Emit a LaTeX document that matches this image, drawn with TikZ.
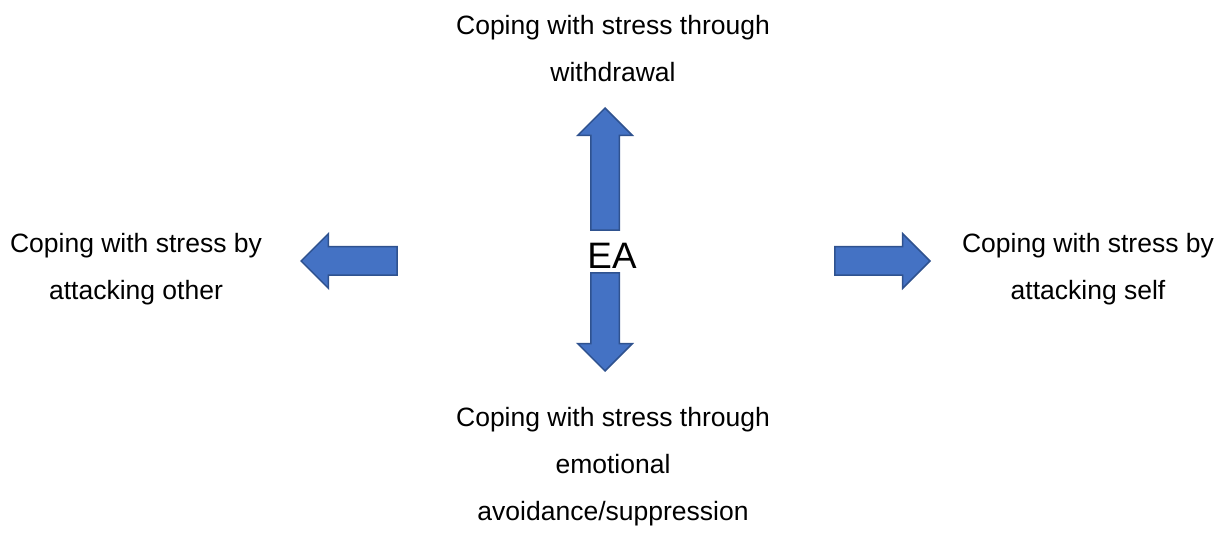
\documentclass[tikz,border=0pt]{standalone}
\usepackage{fontspec}
\setmainfont{Liberation Sans}
\usetikzlibrary{shapes.arrows}
\definecolor{bleu}{HTML}{4472C4}
\definecolor{bleufonce}{HTML}{2F528F}
\begin{document}
\begin{tikzpicture}[x=0.5pt,y=-0.5pt]

% définition des styles
\tikzstyle{bloc}=[single arrow,draw=bleufonce,fill=bleu,line width=0.75pt,inner sep=6.75pt,single arrow head extend=6.5pt,single arrow tip angle=90]
\tikzstyle{texte}=[align=center,font=\fontsize{13.25}{23.5}\selectfont]

\useasboundingbox (0,0) rectangle (1225,555);

% le centre
\node [font=\fontsize{18.4}{22}\selectfont] (ea) at (612,256){EA};

% les flèches
\node [bloc,minimum height=61pt,rotate=90,anchor=tip] (aU) at (605,107){};
\node [bloc,minimum height=49pt,rotate=-90,anchor=tip] (aD) at (605,372){};
\node [bloc,minimum height=48pt,rotate=180,anchor=tip] (aL) at (300,261){};
\node [bloc,minimum height=47.5pt,anchor=tip] (aR) at (931,261){};

% les textes
\node [texte] (withdrawal) at (613,48.5){Coping with stress through\\withdrawal};
\node [texte] (avoidance) at (613,467){Coping with stress through\\emotional\\avoidance/suppression};
\node [texte] (other) at (136,269){Coping with stress by\\attacking other};
\node [texte] (self) at (1088,269){Coping with stress by\\attacking self};

\end{tikzpicture}
\end{document}
